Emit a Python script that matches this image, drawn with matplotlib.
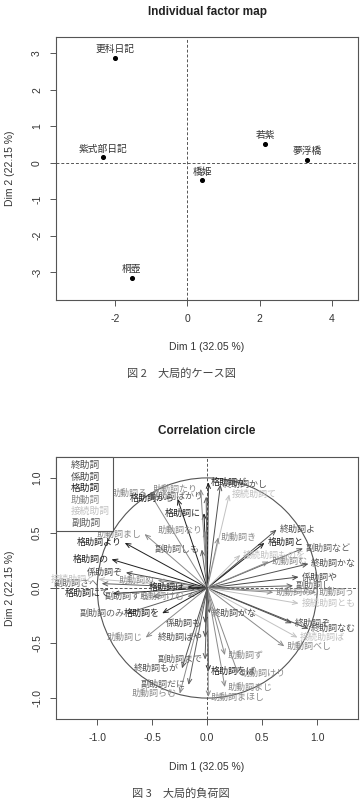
import matplotlib
matplotlib.use('Agg')
import matplotlib.pyplot as plt
from matplotlib.patches import Circle
from matplotlib.lines import Line2D

plt.rcParams['axes.unicode_minus'] = False

# ---- données : carte des individus ----
ind_names = ['更科日記', '紫式部日記', '若紫', '夢浮橋', '橋姫', '桐壺']
ind_dim1 = [-1.99, -2.33, 2.15, 3.32, 0.42, -1.54]
ind_dim2 = [2.88, 0.16, 0.52, 0.09, -0.47, -3.15]

# ---- données : cercle des corrélations ----
var_names = ['格助詞より', '格助詞の', '係助詞ぞ', '助動詞まし', '格助詞にて', '副助詞さへ',
             '接続助詞ど', '助動詞ぬ', '格助詞は', '副助詞すら', '助動詞けむ', '格助詞に',
             '副助詞しも', '助動詞る', '格助詞から', '副助詞ばかり', '助動詞たり', '助動詞なり',
             '格助詞が', '終助詞かし', '接続助詞て', '助動詞き', '終助詞よ', '格助詞と',
             '副助詞など', '接続助詞ものを', '助動詞む', '終助詞かな', '係助詞や', '副助詞し',
             '助動詞めり', '助動詞う', '接続助詞とも', '終助詞ぞ', '終助詞なむ', '助動詞べし',
             '接続助詞ば', '終助詞がな', '助動詞ず', '格助詞をば', '助動詞けり', '助動詞まじ',
             '助動詞まほし', '助動詞らむ', '副助詞のみ', '格助詞を', '係助詞も', '助動詞じ',
             '終助詞ばや', '副助詞まで', '終助詞もが', '副助詞だに']
var_dim1 = [-0.75, -0.87, -0.74, -0.57, -0.86, -0.96,
            -0.99, -0.45, -0.18, -0.50, -0.18, -0.03,
            -0.05, -0.52, -0.27, -0.01, -0.06, -0.02,
            0.01, 0.12, 0.20, 0.10, 0.63, 0.52,
            0.87, 0.30, 0.56, 0.92, 0.83, 0.78,
            0.60, 0.99, 0.83, 0.77, 0.92, 0.70,
            0.82, 0.02, 0.16, 0.01, 0.28, 0.16,
            0.01, -0.25, -0.73, -0.41, -0.02, -0.56,
            -0.02, -0.02, -0.23, -0.17]
var_dim2 = [0.41, 0.26, 0.14, 0.49, -0.05, 0.04,
            0.08, 0.07, 0.01, -0.08, -0.08, 0.68,
            0.35, 0.86, 0.81, 0.83, 0.90, 0.52,
            0.96, 0.94, 0.85, 0.46, 0.53, 0.41,
            0.36, 0.30, 0.24, 0.22, 0.10, 0.02,
            -0.04, -0.04, -0.14, -0.32, -0.37, -0.53,
            -0.45, -0.23, -0.61, -0.76, -0.78, -0.90,
            -0.99, -0.96, -0.23, -0.23, -0.32, -0.45,
            -0.45, -0.65, -0.73, -0.88]
var_group = ['格助詞', '格助詞', '係助詞', '助動詞', '格助詞', '副助詞',
             '接続助詞', '助動詞', '格助詞', '副助詞', '助動詞', '格助詞',
             '副助詞', '助動詞', '格助詞', '副助詞', '助動詞', '助動詞',
             '格助詞', '終助詞', '接続助詞', '助動詞', '終助詞', '格助詞',
             '副助詞', '接続助詞', '助動詞', '終助詞', '係助詞', '副助詞',
             '助動詞', '助動詞', '接続助詞', '終助詞', '終助詞', '助動詞',
             '接続助詞', '終助詞', '助動詞', '格助詞', '助動詞', '助動詞',
             '助動詞', '助動詞', '副助詞', '格助詞', '係助詞', '助動詞',
             '終助詞', '副助詞', '終助詞', '副助詞']

groups = ['終助詞', '係助詞', '格助詞', '助動詞', '接続助詞', '副助詞']
group_colors = {'終助詞': '#505050', '係助詞': '#474747', '格助詞': '#1e1e1e',
                '助動詞': '#8a8a8a', '接続助詞': '#c2c2c2', '副助詞': '#5e5e5e'}

JP = ['Noto Sans CJK JP', 'DejaVu Sans']
LAT = ['Liberation Sans', 'DejaVu Sans']
W, H = 361, 810


def style_axes(ax):
    for s in ax.spines.values():
        s.set_color('#555555')
        s.set_linewidth(0.8)
    ax.tick_params(direction='out', length=4, width=0.7, colors='#555555',
                   labelcolor='#333333', labelsize=7.5, pad=6)
    ax.tick_params(axis='y', labelrotation=90)
    for lab in ax.get_xticklabels() + ax.get_yticklabels():
        lab.set_family(LAT)
    for lab in ax.get_yticklabels():
        lab.set_va('center')
    ax.axhline(0, ls='--', color='#555555', lw=0.7, dashes=(3, 2))
    ax.axvline(0, ls='--', color='#555555', lw=0.7, dashes=(3, 2))


fig = plt.figure(figsize=(W / 100, H / 100), dpi=100)

# ---- Individual factor map ----
ax1 = fig.add_axes([56 / W, 1 - 300 / H, 302 / W, 263 / H])
ax1.set_xlim(-3.63, 4.72)
ax1.set_ylim(-3.76, 3.45)
ax1.set_xticks([-2, 0, 2, 4])
ax1.set_yticks([-3, -2, -1, 0, 1, 2, 3])
style_axes(ax1)
ax1.scatter(ind_dim1, ind_dim2, s=7, color='black', zorder=3)
for n, x, y in zip(ind_names, ind_dim1, ind_dim2):
    ax1.annotate(n, (x, y), xytext=(0, 2.5), textcoords='offset points',
                 ha='center', va='bottom', fontsize=7, color='#333333', family=JP)

fig.text(207 / W, 1 - 12 / H, 'Individual factor map', ha='center', va='center',
         fontsize=8.5, fontweight='bold', family=LAT, color='#222222')
fig.text(207 / W, 1 - 347 / H, 'Dim 1 (32.05 %)', ha='center', va='center',
         fontsize=7.5, family=LAT, color='#333333')
fig.text(10 / W, 1 - 168 / H, 'Dim 2 (22.15 %)', ha='center', va='center',
         rotation=90, fontsize=7.5, family=LAT, color='#333333')
fig.text(181 / W, 1 - 374 / H, '図 2　大局的ケース図', ha='center', va='center',
         fontsize=8, family=JP, color='#444444')

# ---- Correlation circle ----
ax2 = fig.add_axes([56 / W, 1 - 719 / H, 302 / W, 262 / H])
ax2.set_xlim(-1.375, 1.37)
ax2.set_ylim(-1.19, 1.19)
ax2.set_xticks([-1.0, -0.5, 0.0, 0.5, 1.0])
ax2.set_yticks([-1.0, -0.5, 0.0, 0.5, 1.0])
ax2.set_xticklabels(['-1.0', '-0.5', '0.0', '0.5', '1.0'])
ax2.set_yticklabels(['-1.0', '-0.5', '0.0', '0.5', '1.0'])
style_axes(ax2)
ax2.add_patch(Circle((0, 0), 1, fill=False, ec='#555555', lw=0.8))

for n, x, y, g in zip(var_names, var_dim1, var_dim2, var_group):
    c = group_colors[g]
    ax2.annotate('', xy=(x, y), xytext=(0, 0),
                 arrowprops=dict(arrowstyle='->,head_length=0.35,head_width=0.15',
                                 color=c, lw=0.7, shrinkA=0, shrinkB=0))
    ax2.annotate(n, (x, y), xytext=(2 if x >= 0 else -2, 0), textcoords='offset points',
                 ha='left' if x >= 0 else 'right', va='center',
                 fontsize=6.5, color=c, family=JP)

handles = [Line2D([], [], linestyle='none') for _ in groups]
leg = ax2.legend(handles, groups, loc='upper left', borderaxespad=0, handlelength=1.0,
                 handletextpad=0.2, labelspacing=0.15, borderpad=0.35,
                 prop={'family': JP, 'size': 7},
                 labelcolor=[group_colors[g] for g in groups], fancybox=False,
                 framealpha=1)
leg.get_frame().set_edgecolor('#555555')
leg.get_frame().set_linewidth(0.8)

fig.text(207 / W, 1 - 431 / H, 'Correlation circle', ha='center', va='center',
         fontsize=8.5, fontweight='bold', family=LAT, color='#222222')
fig.text(207 / W, 1 - 767 / H, 'Dim 1 (32.05 %)', ha='center', va='center',
         fontsize=7.5, family=LAT, color='#333333')
fig.text(10 / W, 1 - 588 / H, 'Dim 2 (22.15 %)', ha='center', va='center',
         rotation=90, fontsize=7.5, family=LAT, color='#333333')
fig.text(181 / W, 1 - 794 / H, '図 3　大局的負荷図', ha='center', va='center',
         fontsize=8, family=JP, color='#444444')

fig.savefig('out.png', dpi=100, facecolor='white')
